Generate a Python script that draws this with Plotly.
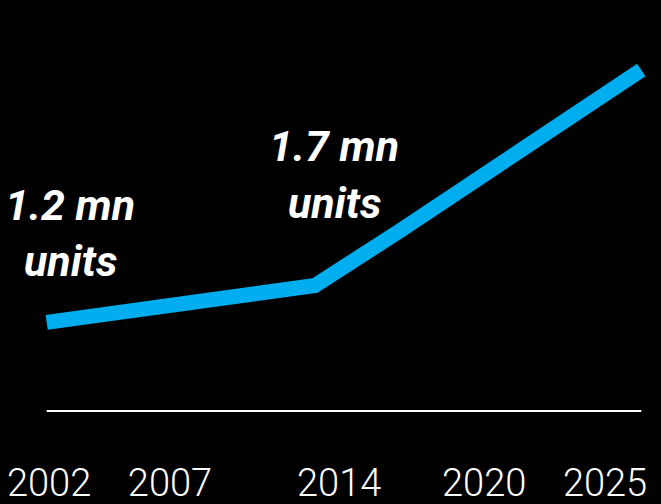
import plotly.graph_objects as go

# Data
years = [2001.9, 2013.0, 2016.5, 2020.7, 2026.5]
units_mn = [1.2, 1.7, 2.44, 3.36, 4.62]
tick_years = [2002, 2007, 2014, 2020, 2025]
tick_labels = ["2002", "2007", "2014", "2020", "2025"]
label_lines_a = ["1.2 mn", "units"]
label_lines_b = ["1.7 mn", "units"]

W, H = 661, 504
PLOT_H = 415
BLUE = "#00AEEF"

fig = go.Figure()
fig.add_trace(go.Scatter(
    x=years, y=units_mn, mode="lines",
    line=dict(color=BLUE, width=15),
    hoverinfo="skip", showlegend=False,
))

# baseline
fig.add_shape(type="line", xref="x", yref="y",
              x0=min(years), x1=max(years), y0=0, y1=0,
              line=dict(color="white", width=2))

ann_font = dict(family="Roboto, Arial, sans-serif", size=43, color="white",
                weight="bold", style="italic")

def add_label(lines, cx, baselines):
    for txt, b in zip(lines, baselines):
        fig.add_annotation(text=txt, xref="paper", yref="paper",
                           x=cx / W, y=1 - (b - 17) / PLOT_H,
                           xanchor="center", yanchor="middle",
                           showarrow=False, font=ann_font)

add_label(label_lines_a, 70, [221.7, 278.3])
add_label(label_lines_b, 334, [163.3, 220.0])

fig.update_layout(
    width=W, height=H,
    margin=dict(l=0, r=0, t=0, b=H - PLOT_H, pad=0),
    paper_bgcolor="black", plot_bgcolor="black",
    xaxis=dict(range=[1999.968, 2027.315], showgrid=False, zeroline=False,
               showline=False, ticks="", tickvals=tick_years, ticktext=tick_labels,
               tickfont=dict(family="Roboto, Arial, sans-serif", size=38,
                             color="white", weight=300),
               ticklabelstandoff=42, automargin=False, fixedrange=True),
    yaxis=dict(range=[-4 / 73.8, 411 / 73.8], visible=False, fixedrange=True,
               automargin=False),
)

fig.write_html("out.html", config={"displayModeBar": False},
               post_script="document.body.style.margin='0';"
                           "document.body.style.background='black';")
